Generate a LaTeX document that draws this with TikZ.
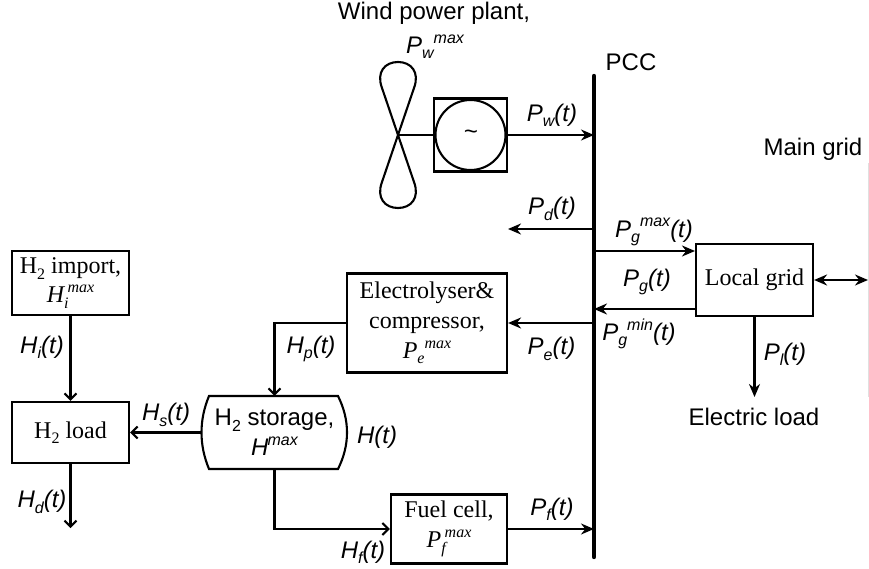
\documentclass[tikz,border=0pt]{standalone}
\usepackage{fontspec}
\setmainfont{Liberation Serif}
\newfontfamily\arialf{Liberation Sans}
\usetikzlibrary{arrows.meta}
\newcommand\sbs[1]{\raisebox{-0.22em}{\fontsize{16}{16}\selectfont #1}}
\newcommand\sps[1]{\raisebox{0.42em}{\fontsize{16}{16}\selectfont #1}}
\tikzset{
  wire/.style={line width=2.1pt,line join=miter},
  elec/.style={wire,-{Stealth[length=13pt,width=11pt]}},
  elecboth/.style={wire,{Stealth[length=13pt,width=11pt]}-{Stealth[length=13pt,width=11pt]}},
  hyd/.style={wire,-{Straight Barb[length=6pt,width=12pt,line width=2.1pt]}},
  boxn/.style={draw,line width=2.1pt,inner sep=0pt,align=center,fill=white,font=\fontsize{24}{24}\selectfont},
  lab/.style={inner sep=0pt,yshift=-2pt,font=\arialf\itshape\fontsize{24}{26}\selectfont},
  txt/.style={inner sep=0pt,font=\arialf\fontsize{24}{26}\selectfont},
}
\begin{document}
\begin{tikzpicture}[x=1pt,y=-1pt]
\useasboundingbox (0,0) rectangle (869,569);
% bus
\coordinate (bustop) at (594,76);
\coordinate (busbot) at (594,557);
\draw[line width=4.4pt,line cap=round] (bustop) -- (busbot);
\coordinate (busw) at (594,135);
\coordinate (busd) at (594,229);
\coordinate (busgu) at (594,251);
\coordinate (busg) at (594,309);
\coordinate (buse) at (594,323);
\coordinate (busf) at (594,529);
% wind
\coordinate (hub) at (398,135);
\draw[wire] (hub) -- (382,88) .. controls (376,72) and (385,62) .. (398,62) .. controls (411,62) and (420,72) .. (414,88) -- (382,182) .. controls (376,198) and (385,208) .. (398,208) .. controls (411,208) and (420,198) .. (414,182) -- cycle;
\node[draw,line width=2.1pt,minimum size=73pt,inner sep=0pt] (gensq) at (470.5,135) {};
\node[draw,circle,line width=2.1pt,minimum size=70pt,inner sep=0pt,font=\arialf\itshape\fontsize{24}{26}\selectfont] (gen) at (470.5,135) {\raisebox{-0.1em}{\textasciitilde}};
\draw[wire] (hub) -- (gen.west);
\draw[elec] (gen.east) -- (busw);
% boxes
\node[boxn,minimum width=117pt,minimum height=64pt] (imp) at (70.5,283) {H\sbs{2} import,\\[5pt]\textit{H\sbs{i}\kern-1pt\sps{max}}};
\node[boxn,minimum width=117pt,minimum height=61pt] (load) at (70.5,432.5) {H\sbs{2} load};
\node[boxn,minimum width=160pt,minimum height=99pt] (ely) at (427,323) {Electrolyser\&\\[6pt]compressor,\\[6pt]\textit{P\sbs{e}\sps{max}}};
\node[boxn,minimum width=116pt,minimum height=69pt] (fc) at (449,529) {Fuel cell,\\[6pt]\textit{P\sbs{f}\kern-1pt\sps{max}}};
\node[boxn,minimum width=117pt,minimum height=72pt] (lg) at (754.5,280) {Local grid};
% storage
\node[inner sep=0pt,minimum width=145pt,minimum height=73pt,align=center,font=\arialf\fontsize{24}{24}\selectfont] (st) at (274.5,432.5) {H\sbs{2} storage,\\[6pt]\textit{H}\kern-1pt\sps{\itshape max}};
\draw[wire] (209,396) -- (338,396) .. controls (350,420) and (350,445) .. (338,469) -- (209,469) .. controls (199,445) and (199,420) .. (209,396) -- cycle;
% connectors
\coordinate (dend) at (508,229);
\coordinate (hdend) at (70.5,528);
\coordinate (ext) at (868,280);
\coordinate (elload) at (754.5,397);
\draw[elec] (busd) -- (dend);
\draw[elec] (busgu) -- (busgu -| lg.west);
\draw[elec] (busg -| lg.west) -- (busg);
\draw[elec] (buse) -- (ely.east);
\draw[elec] (fc.east) -- (busf);
\draw[elecboth] (lg.east) -- (ext);
\draw[elec] (lg.south) -- (elload);
\draw[hyd] (ely.west) -| (st.north);
\draw[hyd] (st.south) |- (fc.west);
\draw[hyd] (st.west) -- (load.east);
\draw[hyd] (imp.south) -- (load.north);
\draw[hyd] (load.south) -- (hdend);
% right-hand rule
\coordinate (rt) at (868,163);
\coordinate (rb) at (868,397);
\draw[black!12,line width=0.8pt] (rt) -- (rb);
% labels
\node[txt] (t1) at (434,13) {Wind power plant,};
\node[lab] (t2) at (435,45) {P\sbs{w}\sps{max}};
\node[txt] (t3) at (631,62) {PCC};
\node[txt] (t4) at (813,149) {Main grid};
\node[txt] (t5) at (754,417) {Electric load};
\node[lab] (l1) at (552,113) {P\sbs{w}(t)};
\node[lab] (l2) at (552,207) {P\sbs{d}(t)};
\node[lab] (l3) at (654,230) {P\sbs{g}\sps{max}(t)};
\node[lab] (l4) at (647,280) {P\sbs{g}(t)};
\node[lab] (l5) at (639,332) {P\sbs{g}\sps{min}(t)};
\node[lab] (l6) at (785,352) {P\sbs{l}(t)};
\node[lab] (l7) at (551.5,347) {P\sbs{e}(t)};
\node[lab] (l8) at (552,507) {P\sbs{f}(t)};
\node[lab] (l9) at (377,435) {H(t)};
\node[lab] (l10) at (363,550) {H\sbs{f}(t)};
\node[lab] (l11) at (311,347) {H\sbs{p}(t)};
\node[lab] (l12) at (42,345) {H\sbs{i}(t)};
\node[lab] (l13) at (166,413) {H\sbs{s}(t)};
\node[lab] (l14) at (42,500) {H\sbs{d}(t)};
\end{tikzpicture}
\end{document}
